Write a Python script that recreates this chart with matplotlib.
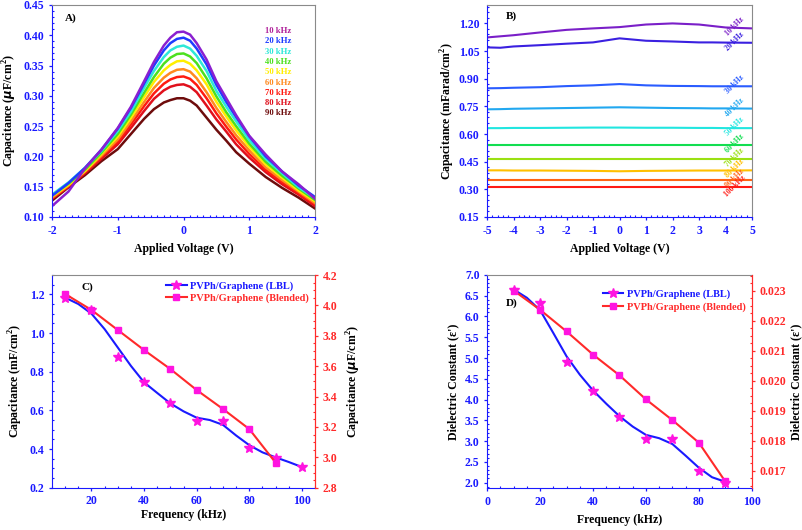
import matplotlib
matplotlib.use('Agg')
import matplotlib.pyplot as plt
from matplotlib.lines import Line2D
from matplotlib.ticker import MultipleLocator, FormatStrFormatter

plt.rcParams['font.family'] = ['Liberation Serif', 'DejaVu Serif']
plt.rcParams['font.weight'] = 'bold'
plt.rcParams['axes.labelweight'] = 'bold'
plt.rcParams['axes.unicode_minus'] = False
plt.rcParams['mathtext.fontset'] = 'custom'
plt.rcParams['mathtext.rm'] = 'Liberation Serif:bold'
plt.rcParams['mathtext.bf'] = 'Liberation Serif:bold'

BLUE = '#1a1aff'
RED = '#ff2a2a'
GREY = '#8a8a8a'
PINK = '#ff14e0'

# ---- panel A: C-V at 10..90 kHz ----
volt_a = [-2, -1.75, -1.5, -1.25, -1, -0.8, -0.6, -0.45, -0.3, -0.2, -0.1, 0,
          0.1, 0.2, 0.35, 0.5, 0.65, 0.8, 1, 1.25, 1.5, 1.75, 2]
cap_a_10 = [0.118, 0.142, 0.180, 0.211, 0.247, 0.282, 0.324, 0.356, 0.383, 0.396, 0.405, 0.406,
            0.401, 0.387, 0.360, 0.324, 0.296, 0.268, 0.234, 0.203, 0.175, 0.154, 0.130]
cap_a_20 = [0.135, 0.156, 0.181, 0.211, 0.246, 0.280, 0.320, 0.350, 0.375, 0.387, 0.394, 0.396,
            0.391, 0.378, 0.352, 0.318, 0.290, 0.265, 0.233, 0.200, 0.175, 0.152, 0.133]
cap_a_30 = [0.137, 0.157, 0.181, 0.209, 0.242, 0.274, 0.313, 0.341, 0.364, 0.375, 0.381, 0.383,
            0.378, 0.366, 0.341, 0.308, 0.282, 0.258, 0.227, 0.196, 0.172, 0.149, 0.131]
cap_a_40 = [0.136, 0.155, 0.178, 0.206, 0.237, 0.269, 0.305, 0.331, 0.353, 0.363, 0.369, 0.370,
            0.365, 0.354, 0.329, 0.299, 0.273, 0.250, 0.221, 0.191, 0.168, 0.147, 0.128]
cap_a_50 = [0.134, 0.153, 0.176, 0.204, 0.233, 0.264, 0.298, 0.323, 0.342, 0.351, 0.357, 0.358,
            0.353, 0.342, 0.319, 0.290, 0.266, 0.243, 0.216, 0.187, 0.165, 0.144, 0.126]
cap_a_60 = [0.132, 0.152, 0.175, 0.201, 0.228, 0.258, 0.290, 0.313, 0.330, 0.338, 0.343, 0.344,
            0.340, 0.329, 0.306, 0.280, 0.257, 0.235, 0.210, 0.182, 0.161, 0.142, 0.123]
cap_a_70 = [0.131, 0.151, 0.174, 0.199, 0.224, 0.253, 0.283, 0.304, 0.320, 0.327, 0.331, 0.332,
            0.328, 0.318, 0.296, 0.271, 0.249, 0.228, 0.204, 0.178, 0.158, 0.139, 0.121]
cap_a_80 = [0.130, 0.150, 0.172, 0.196, 0.220, 0.247, 0.275, 0.295, 0.309, 0.315, 0.318, 0.319,
            0.315, 0.306, 0.284, 0.261, 0.241, 0.220, 0.198, 0.174, 0.154, 0.137, 0.118]
cap_a_90 = [0.127, 0.149, 0.169, 0.192, 0.212, 0.237, 0.262, 0.278, 0.289, 0.293, 0.296, 0.296,
            0.292, 0.284, 0.264, 0.244, 0.226, 0.207, 0.188, 0.166, 0.148, 0.132, 0.114]
labels_a = ['10 kHz', '20 kHz', '30 kHz', '40 kHz', '50 kHz',
            '60 kHz', '70 kHz', '80 kHz', '90 kHz']
colors_a = ['#8a1fd0', '#1f3cff', '#2ee8d8', '#4ce01e', '#ffee00',
            '#ff8a20', '#ff1a10', '#e0101c', '#6e0c0c']
text_colors_a = ['#b0209a', '#1f3cff', '#2ee8d8', '#4ce01e', '#ffee00',
                 '#ff8a20', '#ff1a10', '#e0101c', '#6e0c0c']

# ---- panel B: C-V at 10..100 kHz ----
volt_b = [-5, -4.5, -4, -3, -2, -1, 0, 1, 2, 3, 3.5, 4, 5]
cap_b_10 = [1.124, 1.130, 1.136, 1.151, 1.165, 1.173, 1.180, 1.194, 1.200, 1.194, 1.186, 1.178, 1.173]
cap_b_20 = [1.070, 1.068, 1.075, 1.082, 1.090, 1.097, 1.119, 1.106, 1.102, 1.097, 1.097, 1.096, 1.095]
cap_b_30 = [0.848, 0.849, 0.851, 0.854, 0.860, 0.864, 0.871, 0.864, 0.861, 0.860, 0.859, 0.859, 0.859]
cap_b_40 = [0.734, 0.735, 0.737, 0.739, 0.741, 0.743, 0.745, 0.743, 0.741, 0.740, 0.739, 0.739, 0.738]
cap_b_50 = [0.632, 0.632, 0.633, 0.633, 0.634, 0.635, 0.635, 0.634, 0.634, 0.633, 0.633, 0.632, 0.632]
cap_b_60 = [0.541, 0.541, 0.541, 0.541, 0.541, 0.541, 0.541, 0.541, 0.541, 0.541, 0.541, 0.541, 0.541]
cap_b_70 = [0.464, 0.464, 0.464, 0.464, 0.464, 0.464, 0.464, 0.464, 0.464, 0.464, 0.464, 0.464, 0.464]
cap_b_80 = [0.403, 0.403, 0.402, 0.402, 0.401, 0.400, 0.398, 0.400, 0.401, 0.402, 0.402, 0.402, 0.403]
cap_b_90 = [0.352, 0.352, 0.352, 0.352, 0.352, 0.352, 0.352, 0.352, 0.352, 0.352, 0.352, 0.352, 0.352]
cap_b_100 = [0.310, 0.310, 0.310, 0.310, 0.310, 0.310, 0.310, 0.310, 0.310, 0.310, 0.310, 0.310, 0.310]
labels_b = ['10 kHz', '20 kHz', '30 kHz', '40 kHz', '50 kHz',
            '60 kHz', '70 kHz', '80 kHz', '90 kHz', '100 kHz']
colors_b = ['#7a1fc8', '#3a20e0', '#2a5cff', '#22a8f0', '#22e6e0',
            '#12de50', '#9ae012', '#ffc000', '#ff6414', '#ff1a14']

# ---- panel C: capacitance vs frequency ----
freq_c = [10, 20, 30, 40, 50, 60, 70, 80, 90, 100]
cap_lbl_c = [1.183, 1.117, 0.876, 0.747, 0.636, 0.544, 0.544, 0.403, 0.355, 0.307]
fit_freq_c = [10, 15, 20, 25, 30, 35, 40, 45, 50, 55, 60, 65, 70, 75, 80, 85, 90, 95, 100]
fit_lbl_c = [1.183, 1.150, 1.100, 1.020, 0.925, 0.830, 0.745, 0.690, 0.636, 0.595,
             0.562, 0.550, 0.525, 0.470, 0.420, 0.383, 0.357, 0.333, 0.307]
freq_blend_c = [10, 20, 30, 40, 50, 60, 70, 80, 90]
cap_blend_c = [4.075, 3.970, 3.838, 3.706, 3.581, 3.443, 3.318, 3.186, 2.965]

# ---- panel D: dielectric constant vs frequency ----
freq_d = [10, 20, 30, 40, 50, 60, 70, 80, 90]
eps_lbl_d = [6.65, 6.32, 4.91, 4.21, 3.57, 3.04, 3.04, 2.27, 2.00]
fit_freq_d = [10, 15, 20, 25, 30, 35, 40, 45, 50, 55, 60, 65, 70, 75, 80, 85, 90]
fit_lbl_d = [6.65, 6.45, 6.15, 5.60, 5.04, 4.60, 4.22, 3.90, 3.60, 3.35,
             3.15, 3.07, 2.93, 2.65, 2.36, 2.13, 2.02]
eps_blend_d = [0.02300, 0.02236, 0.02164, 0.02087, 0.02018, 0.01938, 0.01869, 0.01794, 0.01665]

TICK_FS = 8.5
LAB_FS = 8.5


def style(ax, right_color=GREY):
    ax.spines['left'].set_color(BLUE)
    ax.spines['bottom'].set_color(BLUE)
    ax.spines['top'].set_color(GREY)
    ax.spines['right'].set_color(right_color)
    ax.tick_params(axis='both', which='both', colors=BLUE,
                   labelsize=TICK_FS, top=False, right=False)
    ax.tick_params(which='major', direction='out', length=2.5, width=0.9, pad=3)
    ax.tick_params(which='minor', direction='in', length=1.6, width=0.8)


def style_twin(tw, color=RED):
    for s in ['left', 'bottom', 'top']:
        tw.spines[s].set_visible(False)
    tw.spines['right'].set_color(color)
    tw.tick_params(axis='y', which='both', colors=color, labelsize=TICK_FS)
    tw.tick_params(which='major', direction='out', length=2.5, width=0.9, pad=3)
    tw.tick_params(which='minor', direction='in', length=1.6, width=0.8)


fig = plt.figure(figsize=(8.03, 5.30), dpi=100)

# ---------------- A ----------------
axA = fig.add_axes([0.0648, 0.5906, 0.3275, 0.4])
series_a = [cap_a_90, cap_a_80, cap_a_70, cap_a_60, cap_a_50, cap_a_40, cap_a_30, cap_a_20, cap_a_10]
for ys, col in zip(series_a, colors_a[::-1]):
    axA.plot(volt_a, ys, color=col, lw=1.8)
axA.set_xlim(-2, 2)
axA.set_ylim(0.10, 0.45)
axA.xaxis.set_major_locator(MultipleLocator(1))
axA.xaxis.set_minor_locator(MultipleLocator(0.1))
axA.yaxis.set_major_locator(MultipleLocator(0.05))
axA.yaxis.set_minor_locator(MultipleLocator(0.01))
axA.yaxis.set_major_formatter(FormatStrFormatter('%.2f'))
axA.set_xlabel('Applied Voltage (V)', fontsize=LAB_FS, labelpad=4.5)
axA.set_ylabel('Capacitance ($\\mu$F/cm$^2$)', fontsize=LAB_FS, labelpad=3)
style(axA)
axA.text(0.05, 0.94, 'A)', transform=axA.transAxes, fontsize=8, va='center')
for i, (lab, col) in enumerate(zip(labels_a, text_colors_a)):
    axA.text(0.86, 0.877 - i * 0.0486, lab, transform=axA.transAxes,
             color=col, fontsize=6.2, ha='center', va='center')

# ---------------- B ----------------
axB = fig.add_axes([0.6065, 0.5906, 0.330, 0.4])
series_b = [cap_b_10, cap_b_20, cap_b_30, cap_b_40, cap_b_50,
            cap_b_60, cap_b_70, cap_b_80, cap_b_90, cap_b_100]
for ys, col, lab in zip(series_b, colors_b, labels_b):
    axB.plot(volt_b, ys, color=col, lw=1.5)
    axB.text(4.35, ys[-1] + 0.008, lab, color=col, fontsize=5.5, rotation=45,
             ha='center', va='center')
axB.set_xlim(-5, 5)
axB.set_ylim(0.15, 1.30)
axB.xaxis.set_major_locator(MultipleLocator(1))
axB.xaxis.set_minor_locator(MultipleLocator(0.2))
axB.yaxis.set_major_locator(MultipleLocator(0.15))
axB.yaxis.set_minor_locator(MultipleLocator(0.03))
axB.yaxis.set_major_formatter(FormatStrFormatter('%.2f'))
axB.set_xlabel('Applied Voltage (V)', fontsize=LAB_FS, labelpad=4.5)
axB.set_ylabel('Capacitance (mFarad/cm$^2$)', fontsize=LAB_FS, labelpad=1)
style(axB)
axB.text(0.072, 0.945, 'B)', transform=axB.transAxes, fontsize=8, va='center')

# ---------------- C ----------------
axC = fig.add_axes([0.0648, 0.0798, 0.3275, 0.4013])
axC.plot(fit_freq_c, fit_lbl_c, color='#1a1aff', lw=1.5, zorder=2)
axC.plot(freq_c, cap_lbl_c, ls='none', marker='*', ms=7, color=PINK, zorder=3)
axC.set_xlim(5, 105)
axC.set_ylim(0.2, 1.3)
axC.xaxis.set_major_locator(MultipleLocator(20))
axC.xaxis.set_minor_locator(MultipleLocator(5))
axC.yaxis.set_major_locator(MultipleLocator(0.2))
axC.yaxis.set_minor_locator(MultipleLocator(0.05))
axC.yaxis.set_major_formatter(FormatStrFormatter('%.1f'))
axC.set_xlabel('Frequency (kHz)', fontsize=LAB_FS, labelpad=1)
axC.set_ylabel('Capacitance (mF/cm$^2$)', fontsize=LAB_FS, labelpad=3)
style(axC, right_color=RED)
twC = axC.twinx()
twC.plot(freq_blend_c, cap_blend_c, color=RED, lw=1.5, marker='s', ms=5,
         markerfacecolor=PINK, markeredgecolor=PINK)
twC.set_ylim(2.8, 4.2)
twC.yaxis.set_major_locator(MultipleLocator(0.2))
twC.yaxis.set_minor_locator(MultipleLocator(0.05))
twC.yaxis.set_major_formatter(FormatStrFormatter('%.1f'))
twC.set_ylabel('Capacitance ($\\mu$F/cm$^2$)', fontsize=LAB_FS, labelpad=5)
style_twin(twC)
axC.text(0.113, 0.945, 'C)', transform=axC.transAxes, fontsize=8, va='center')
handles = [Line2D([], [], color='#1a1aff', lw=1.5, marker='*', ms=7, mfc=PINK, mec=PINK),
           Line2D([], [], color=RED, lw=1.5, marker='s', ms=5, mfc=PINK, mec=PINK)]
twC.legend(handles, ['PVPh/Graphene (LBL)', 'PVPh/Graphene (Blended)'],
           loc='upper right', frameon=False, fontsize=7.5, labelcolor=['#1a1aff', RED],
           handlelength=2.0, handletextpad=0.3, borderaxespad=0.2, labelspacing=0.25)

# ---------------- D ----------------
axD = fig.add_axes([0.6068, 0.0787, 0.3293, 0.4025])
axD.plot(fit_freq_d, fit_lbl_d, color='#1a1aff', lw=1.5, zorder=2)
axD.plot(freq_d, eps_lbl_d, ls='none', marker='*', ms=7, color=PINK, zorder=3)
axD.set_xlim(0, 100)
axD.set_ylim(1.864, 7.0)
axD.xaxis.set_major_locator(MultipleLocator(20))
axD.xaxis.set_minor_locator(MultipleLocator(5))
axD.yaxis.set_major_locator(MultipleLocator(0.5))
axD.yaxis.set_minor_locator(MultipleLocator(0.1))
axD.yaxis.set_major_formatter(FormatStrFormatter('%.1f'))
axD.set_xlabel('Frequency (kHz)', fontsize=LAB_FS, labelpad=4.5)
axD.set_ylabel("Dielectric Constant (\u03b5')", fontsize=LAB_FS, labelpad=4)
style(axD, right_color=RED)
twD = axD.twinx()
twD.plot(freq_d, eps_blend_d, color=RED, lw=1.5, marker='s', ms=5,
         markerfacecolor=PINK, markeredgecolor=PINK)
twD.set_ylim(0.01642, 0.02352)
twD.yaxis.set_major_locator(MultipleLocator(0.001))
twD.yaxis.set_minor_locator(MultipleLocator(0.00025))
twD.yaxis.set_major_formatter(FormatStrFormatter('%.3f'))
twD.set_ylabel("Dielectric Constant (\u03b5')", fontsize=LAB_FS, labelpad=3)
style_twin(twD)
axD.text(0.071, 0.867, 'D)', transform=axD.transAxes, fontsize=8, va='center')
twD.legend(handles, ['PVPh/Graphene (LBL)', 'PVPh/Graphene (Blended)'],
           loc='upper right', bbox_to_anchor=(1.0, 0.96), frameon=False, fontsize=7.5,
           labelcolor=['#1a1aff', RED], handlelength=2.0, handletextpad=0.3,
           borderaxespad=0.2, labelspacing=0.25)

fig.savefig('out.png', dpi=100)
